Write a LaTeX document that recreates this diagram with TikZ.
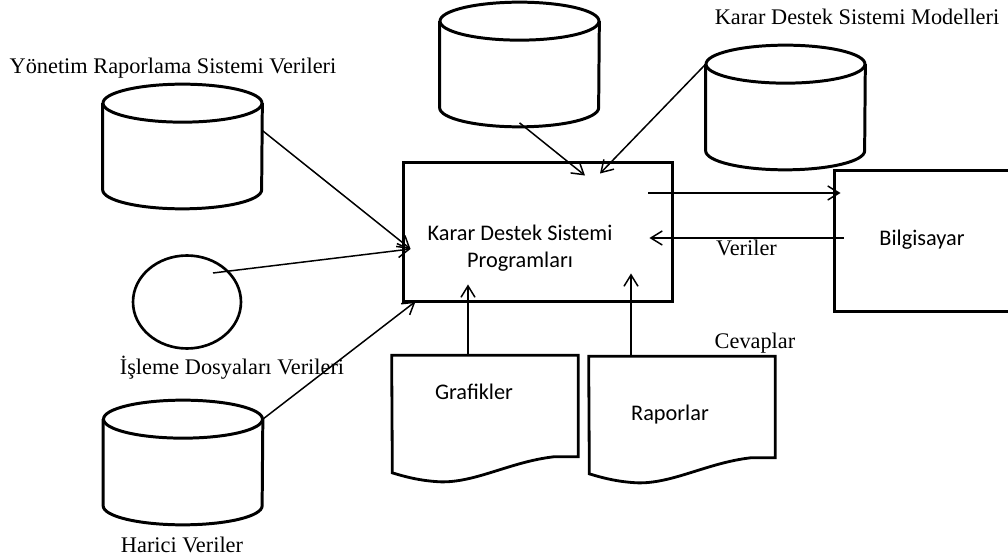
\documentclass[tikz,border=0pt]{standalone}
\usepackage{fontspec}
\setmainfont{Liberation Serif}
\newfontfamily\calibrifont{Carlito}
\usetikzlibrary{shapes.geometric, arrows.meta, positioning, calc}

\tikzset{
  dbbody/.style={rectangle, draw=none, minimum width=3.18cm, minimum height=1.72cm, inner sep=0pt},
  dbline/.style={line width=1.7pt},
  bigbox/.style={rectangle, draw, line width=1.7pt, inner sep=0pt},
  docbody/.style={rectangle, draw=none, minimum width=3.72cm, minimum height=2.02cm, inner sep=0pt},
  conn/.style={-{Straight Barb[length=6.5pt,width=8pt]}, line width=0.85pt},
  serif/.style={font=\fontsize{12.7pt}{14pt}\selectfont},
  sans/.style={font=\calibrifont\fontsize{12.7pt}{15.3pt}\selectfont},
}

\begin{document}
\begin{tikzpicture}[x=0.02cm, y=-0.02cm]
\useasboundingbox (0,0) rectangle (1008,560);
\clip (0,0) rectangle (1008,560);

% program box and computer
\node (kdsp) [bigbox, minimum width=5.4cm, minimum height=2.8cm] at (538,232) {};
\node (kdspText) [sans, align=center] at (520,248) {Karar Destek Sistemi\\Programları};
\node (bilg) [bigbox, minimum width=3.72cm, minimum height=2.84cm] at (927,241) {};
\node (bilgText) [sans] at (922,240) {Bilgisayar};

% data stores
\node (yrs) [dbbody] at (182.5,146.5) {};
\node (dbTop) [dbbody] at (519.5,64.5) {};
\node (ksm) [dbbody] at (785.5,107.5) {};
\node (hv) [dbbody] at (183,462.5) {};
\foreach \c in {yrs, dbTop, ksm, hv} {
  \draw [dbline] (\c.north west) -- (\c.south west)
    arc[start angle=180, end angle=360, x radius=1.59cm, y radius=0.38cm] -- (\c.north east);
  \draw [dbline] (\c.north) ellipse [x radius=1.59cm, y radius=0.38cm];
}
\node (isd) [ellipse, draw, line width=1.5pt, minimum width=2.16cm, minimum height=1.86cm, inner sep=0pt] at (187,302) {};

% labels
\node (yrsLabel) [serif] at (173,68) {Yönetim Raporlama Sistemi Verileri};
\node (ksmLabel) [serif] at (857,17) {Karar Destek Sistemi Modelleri};
\node (isdLabel) [serif] at (232,368) {İşleme Dosyaları Verileri};
\node (hvLabel) [serif] at (182,545) {Harici Veriler};
\node (cevLabel) [serif] at (755,343) {Cevaplar};

% documents
\node (graf) [docbody] at (485,406) {};
\node (rapor) [docbody] at (682,407) {};
\node (grafText) [sans] at (474,392) {Grafikler};
\node (raporText) [sans] at (670,415) {Raporlar};
\foreach \d in {graf, rapor}
  \draw [line width=1.6pt] (\d.north west) -- (\d.north east) -- (\d.south east) -- ++(-25,0)
    .. controls +(-43,5) and +(35,1) .. ++(-113,25)
    .. controls +(-20,-1) and +(13,4) .. ++(-48,-9) -- cycle;

% connectors
\coordinate (inL) at ([shift={(9,17)}]kdsp.west);
\coordinate (inSW) at ([shift={(14,-2)}]kdsp.south west);
\draw [conn] ([shift={(0,-16)}]yrs.east) -- (inL);
\draw [conn] ([shift={(26,-29)}]isd.center) -- (inL);
\draw [conn] (hv.north east) -- (inSW);
\draw [conn] ([shift={(0,15)}]dbTop.south) -- ([shift={(47,15)}]kdsp.north);
\draw [conn] (ksm.north west) -- ([shift={(62,13)}]kdsp.north);
\draw [conn] ([shift={(-26,-39)}]kdsp.east) -- ([shift={(8,-48)}]bilg.west);
\draw [conn] ([shift={(11,-3)}]bilg.west) -- node (verLabel) [serif, below, inner sep=1pt] {Veriler} ([shift={(-25,6)}]kdsp.east);
\draw [conn] ([shift={(-17,0)}]graf.north) -- ([shift={(-70,-19)}]kdsp.south);
\draw [conn] ([shift={(-51,0)}]rapor.north) -- ([shift={(93,-30)}]kdsp.south);
\end{tikzpicture}
\end{document}
